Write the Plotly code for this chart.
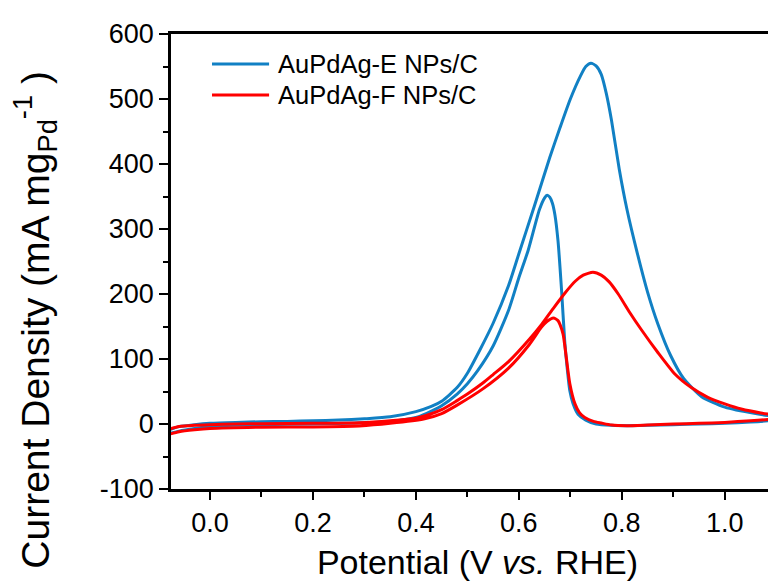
import plotly.graph_objects as go

# ---------------- data ----------------
series_names = ["AuPdAg-E NPs/C", "AuPdAg-F NPs/C"]
series_colors = ["rgb(17,128,196)", "rgb(255,0,0)"]

# AuPdAg-E : forward (anodic) scan
e_fwd_E = [-0.08, -0.06, -0.03, 0.0, 0.05, 0.10, 0.15, 0.20, 0.25, 0.30, 0.35, 0.40, 0.43, 0.45,
           0.48, 0.50, 0.525, 0.55, 0.58, 0.60, 0.63, 0.66, 0.68, 0.70, 0.72, 0.73, 0.74, 0.75,
           0.76, 0.77, 0.78, 0.795, 0.81, 0.83, 0.85, 0.87, 0.895, 0.92, 0.955, 1.00, 1.06,
           1.115, 1.13]
j_fwd_E = [-9, -4, -1, 1, 2.5, 3.5, 4, 5, 6, 8, 11, 19, 27, 35,
           56, 78, 115, 155, 213, 262, 335, 410, 456, 500, 536, 550, 555, 551,
           538, 508, 467, 392, 330, 263, 203, 154, 105, 70, 42, 26, 16,
           10, 9]
# AuPdAg-E : backward (cathodic) scan
e_bwd_E = [1.13, 1.10, 1.05, 1.00, 0.95, 0.90, 0.85, 0.81, 0.78, 0.75, 0.73, 0.715, 0.705, 0.699,
           0.694, 0.689, 0.683, 0.676, 0.67, 0.665, 0.66, 0.655, 0.65, 0.64, 0.618, 0.60, 0.58,
           0.55, 0.52, 0.50, 0.48, 0.45, 0.42, 0.40, 0.35, 0.30, 0.20, 0.10, 0.05, 0.0, -0.03,
           -0.06, -0.08]
j_bwd_E = [9, 6, 3, 1, 0, -1, -2, -2.5, -2, 0, 6, 15, 32, 51,
           85, 128, 205, 282, 322, 340, 349, 352, 348, 330, 267, 225, 175,
           120, 82, 62, 46, 28, 16, 10, 4, 2, 0, -1, -2, -4, -7,
           -11, -15]

# AuPdAg-F : forward scan
e_fwd_F = [-0.08, -0.06, -0.03, 0.0, 0.05, 0.10, 0.20, 0.29, 0.35, 0.40, 0.42, 0.45, 0.48, 0.50,
           0.53, 0.55, 0.58, 0.62, 0.645, 0.667, 0.69, 0.71, 0.725, 0.744, 0.76, 0.775, 0.793,
           0.815, 0.838, 0.87, 0.903, 0.935, 0.967, 1.00, 1.032, 1.07, 1.115, 1.13]
j_fwd_F = [-8, -4, -2, -1, 0, 0.5, 1, 2, 5, 9, 13, 22, 36, 46,
           63, 76, 96, 130, 154, 178, 202, 220, 229, 233.5, 229, 219, 200,
           172, 145, 110, 77, 56, 41, 31, 23, 17, 12, 11]
# AuPdAg-F : backward scan
e_bwd_F = [1.13, 1.10, 1.05, 1.00, 0.95, 0.90, 0.85, 0.81, 0.78, 0.76, 0.745, 0.728, 0.718, 0.709,
           0.699, 0.692, 0.686, 0.68, 0.676, 0.667, 0.655, 0.644, 0.62, 0.58, 0.53, 0.48, 0.45,
           0.417, 0.35, 0.29, 0.20, 0.10, 0.0, -0.03, -0.06, -0.08]
j_bwd_F = [11, 8, 5, 2.5, 1, 0, -1.5, -2.5, -1.5, 1.5, 4, 10, 17, 31,
           62, 103, 138, 153, 159, 163, 158, 149, 122, 86, 54, 29, 16,
           8, 1, -3, -4.5, -5, -7, -9, -12, -16]

x_ticks = [0.0, 0.2, 0.4, 0.6, 0.8, 1.0]
y_ticks = [-100, 0, 100, 200, 300, 400, 500, 600]
x_range = [-0.0757, 1.115]
y_range = [-100, 600]

x_title = "Potential (V <i>vs.</i> RHE)"
y_title = "Current Density (mA mg<sub>Pd</sub><sup>-1</sup> )"

FONT = "Liberation Sans, Arial, sans-serif"

# ---------------- figure ----------------
fig = go.Figure()
loops = [(e_fwd_E + e_bwd_E, j_fwd_E + j_bwd_E),
         (e_fwd_F + e_bwd_F, j_fwd_F + j_bwd_F)]
for (ex, jy), name, col in zip(loops, series_names, series_colors):
    fig.add_trace(go.Scatter(x=ex, y=jy, mode="lines", name=name,
                             line=dict(color=col, width=3, shape="spline", smoothing=0.6),
                             showlegend=False))

# legend drawn as line samples + labels (paper coordinates)
leg_rows_y = [0.934, 0.866]
for name, col, ly in zip(series_names, series_colors, leg_rows_y):
    fig.add_shape(type="line", xref="paper", yref="paper", x0=0.0669, x1=0.160, y0=ly, y1=ly,
                  line=dict(color=col, width=3))
    fig.add_annotation(xref="paper", yref="paper", x=0.1713, y=ly, text=name, showarrow=False,
                       xanchor="left", yanchor="middle", font=dict(family=FONT, size=25.5, color="black"))

fig.add_annotation(xref="paper", yref="paper", x=-0.222, y=0.372, text=y_title, textangle=-90,
                   showarrow=False, xanchor="center", yanchor="middle",
                   font=dict(family=FONT, size=39, color="black"))

fig.update_layout(
    width=776, height=581,
    margin=dict(l=163, r=0, t=26, b=100),
    paper_bgcolor="white", plot_bgcolor="white",
    font=dict(family=FONT, color="black"),
    showlegend=False,
)
fig.update_xaxes(range=x_range, tickvals=x_ticks, ticktext=[f"{v:.1f}" for v in x_ticks],
                 showgrid=False, zeroline=False, showline=True, linecolor="black", linewidth=2.5,
                 mirror=True, ticks="outside", ticklen=8, tickwidth=2, tickcolor="black",
                 tickfont=dict(family=FONT, size=27, color="black"),
                 minor=dict(dtick=0.1, tick0=0, ticks="outside", ticklen=5, tickwidth=2, tickcolor="black"),
                 title=dict(text=x_title, font=dict(family=FONT, size=34, color="black"), standoff=14))
fig.update_yaxes(range=y_range, tickvals=y_ticks, ticktext=[str(v) for v in y_ticks],
                 showgrid=False, zeroline=False, showline=True, linecolor="black", linewidth=2.5,
                 ticks="outside", ticklen=9, tickwidth=2, tickcolor="black",
                 tickfont=dict(family=FONT, size=27, color="black"),
                 minor=dict(dtick=50, tick0=0, ticks="outside", ticklen=5, tickwidth=2, tickcolor="black"))

fig.write_html("out.html")
